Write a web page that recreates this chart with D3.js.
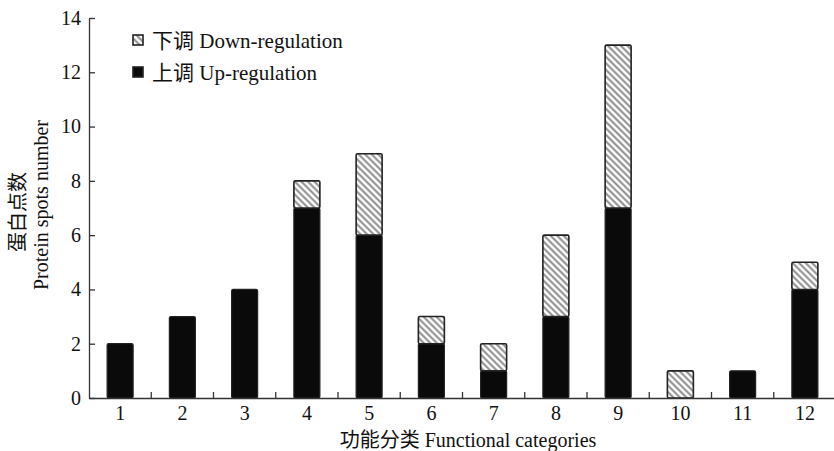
<!DOCTYPE html>
<html>
<head>
<meta charset="utf-8">
<script src="https://cdn.jsdelivr.net/npm/d3@7"></script>
<style>
  body { margin: 0; background: #fff; }
  text { font-family: "Liberation Serif", "Times New Roman", "Noto Sans CJK SC", serif; }
</style>
</head>
<body>
<div id="chart"></div>
<script>
const [width, height] = [834, 451];

// data
const categories = ["1", "2", "3", "4", "5", "6", "7", "8", "9", "10", "11", "12"];
const upValues   = [2, 3, 4, 7, 6, 2, 1, 3, 7, 0, 1, 4];
const downValues = [0, 0, 0, 1, 3, 1, 1, 3, 6, 1, 0, 1];
const yTicks = [0, 2, 4, 6, 8, 10, 12, 14];

const margin = {top: 18, right: -2, bottom: 53, left: 89};
const w = width - margin.left - margin.right;
const h = height - margin.top - margin.bottom;

const svg = d3.select("#chart")
    .append("svg")
    .attr("width", width)
    .attr("height", height);

// hatch for down-regulation (lines running top-left to bottom-right)
const defs = svg.append("defs");
const pat = defs.append("pattern")
    .attr("id", "hatch")
    .attr("patternUnits", "userSpaceOnUse")
    .attr("width", 4.6)
    .attr("height", 4.6)
    .attr("patternTransform", "rotate(45)");
pat.append("rect").attr("width", 4.6).attr("height", 4.6).attr("fill", "#fff");
pat.append("line")
    .attr("x1", 0).attr("y1", 2.3).attr("x2", 4.6).attr("y2", 2.3)
    .attr("stroke", "#858585").attr("stroke-width", 1.9);

const g = svg.append("g")
    .attr("transform", `translate(${margin.left}, ${margin.top})`);

const x = d3.scaleBand()
    .domain(categories)
    .range([0, w])
    .paddingInner(0)
    .paddingOuter(0);

const y = d3.scaleLinear()
    .domain([0, 14])
    .range([h, 0]);

const bw = 26;

const rows = categories.map((c, i) => ({c, up: upValues[i], down: downValues[i]}));

// up-regulation (black)
g.selectAll(".up")
    .data(rows.filter(d => d.up > 0))
    .enter()
    .append("rect")
    .attr("class", "up")
    .attr("x", d => x(d.c) + x.bandwidth() / 2 - bw / 2)
    .attr("y", d => y(d.up))
    .attr("width", bw)
    .attr("height", d => y(0) - y(d.up))
    .attr("rx", 1.5)
    .attr("fill", "#0a0a0a")
    .attr("stroke", "#222")
    .attr("stroke-width", 1.2);

// down-regulation (hatched), stacked on top
g.selectAll(".down")
    .data(rows.filter(d => d.down > 0))
    .enter()
    .append("rect")
    .attr("class", "down")
    .attr("x", d => x(d.c) + x.bandwidth() / 2 - bw / 2)
    .attr("y", d => y(d.up + d.down))
    .attr("width", bw)
    .attr("height", d => y(d.up) - y(d.up + d.down))
    .attr("rx", 1.5)
    .attr("fill", "url(#hatch)")
    .attr("stroke", "#222")
    .attr("stroke-width", 1.6);

// y axis
const y_axis = d3.axisLeft(y)
    .tickValues(yTicks)
    .tickSizeInner(-6)
    .tickSizeOuter(0)
    .tickPadding(8);

const ya = g.append("g").call(y_axis);
ya.select(".domain").attr("stroke", "#333").attr("stroke-width", 1.3);
ya.selectAll(".tick line").attr("stroke", "#333").attr("stroke-width", 1.3);
ya.selectAll(".tick text")
    .attr("font-size", 20)
    .attr("fill", "#111")
    .attr("font-family", "Liberation Serif, serif");

// x axis: labels at band centres, ticks between bands
const x_axis = d3.axisBottom(x)
    .tickSize(0)
    .tickPadding(8);

const xa = g.append("g")
    .attr("transform", `translate(0, ${h})`)
    .call(x_axis);
xa.select(".domain").attr("stroke", "#333").attr("stroke-width", 1.3);
xa.selectAll(".tick text")
    .attr("font-size", 20)
    .attr("fill", "#111")
    .attr("font-family", "Liberation Serif, serif");

g.selectAll(".sep")
    .data(categories.slice(1))
    .enter()
    .append("line")
    .attr("class", "sep")
    .attr("x1", d => x(d)).attr("x2", d => x(d))
    .attr("y1", h).attr("y2", h - 6)
    .attr("stroke", "#333")
    .attr("stroke-width", 1.3);

// legend
const legend = [
    {label: "下调 Down-regulation", fill: "url(#hatch)"},
    {label: "上调 Up-regulation", fill: "#0a0a0a"}
];
const lg = svg.append("g").attr("transform", "translate(133, 35)");
legend.forEach((d, i) => {
    lg.append("rect")
        .attr("x", 0).attr("y", i * 32)
        .attr("width", 10).attr("height", 10)
        .attr("fill", d.fill)
        .attr("stroke", "#222")
        .attr("stroke-width", 1.6);
    lg.append("text")
        .attr("x", 19).attr("y", i * 32 + 13)
        .attr("font-size", 21)
        .attr("fill", "#111")
        .text(d.label);
});

// axis titles
svg.append("text")
    .attr("text-anchor", "middle")
    .attr("x", 468)
    .attr("y", 447)
    .attr("font-size", 20)
    .attr("fill", "#111")
    .text("功能分类 Functional categories");

svg.append("text")
    .attr("text-anchor", "middle")
    .attr("transform", "translate(25, 212) rotate(-90)")
    .attr("font-size", 20)
    .attr("fill", "#111")
    .text("蛋白点数");

svg.append("text")
    .attr("text-anchor", "middle")
    .attr("transform", "translate(48, 205) rotate(-90)")
    .attr("font-size", 20)
    .attr("fill", "#111")
    .text("Protein spots number");
</script>
</body>
</html>
